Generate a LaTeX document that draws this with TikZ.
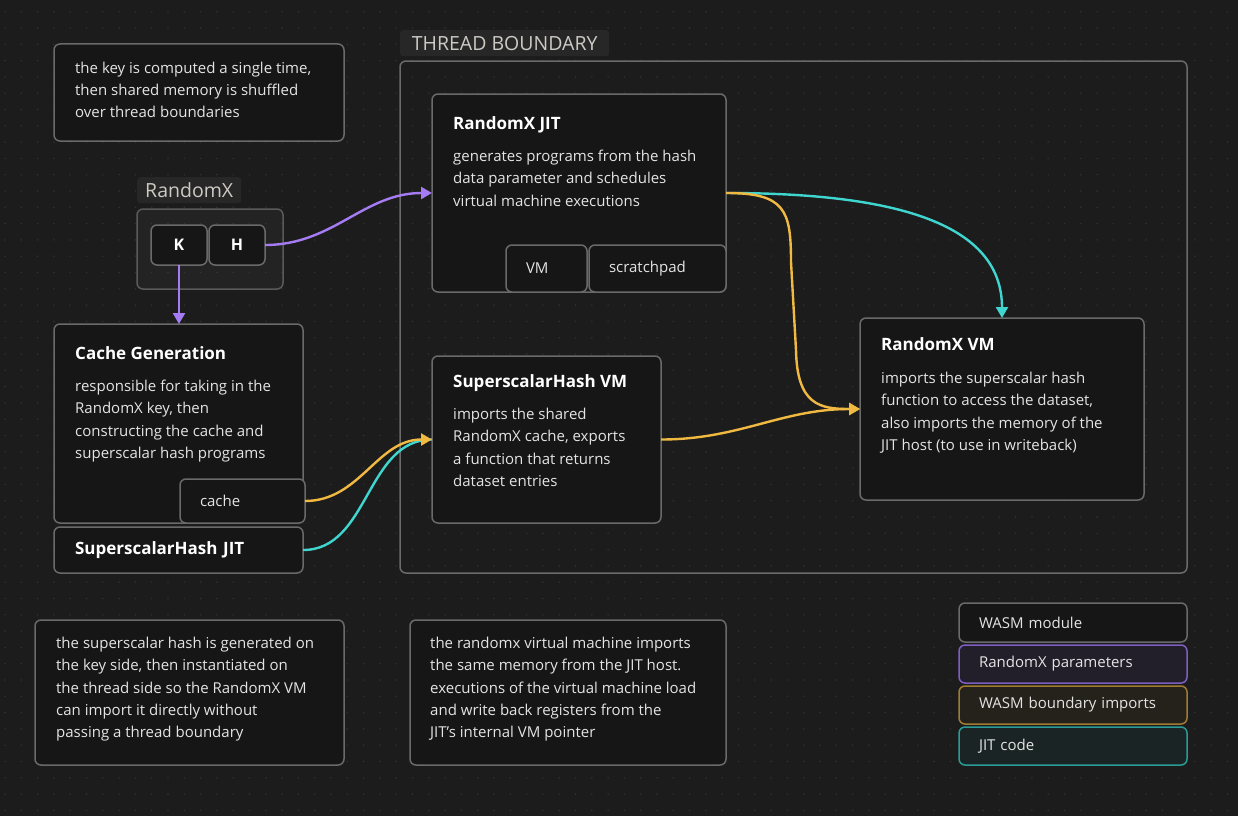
\documentclass[tikz,border=0pt]{standalone}
\usepackage{fontspec}
\setmainfont{Open Sans}
\usetikzlibrary{arrows.meta,positioning,calc}

\definecolor{canvas}{HTML}{1C1C1C}
\definecolor{dotc}{HTML}{303030}
\definecolor{cardbg}{HTML}{161616}
\definecolor{edge}{HTML}{6A6A6A}
\definecolor{bodytxt}{HTML}{E4E4E4}
\definecolor{tagbg}{HTML}{272727}
\definecolor{tagtxt}{HTML}{CDCAC4}
\definecolor{purp}{HTML}{A57CF3}
\definecolor{gold}{HTML}{F0B942}
\definecolor{teal}{HTML}{40D6D0}
\definecolor{purpbd}{HTML}{7D5EC2}
\definecolor{purpbg}{HTML}{221F2B}
\definecolor{goldbd}{HTML}{A07C33}
\definecolor{goldbg}{HTML}{25211B}
\definecolor{tealbd}{HTML}{2A9C97}
\definecolor{tealbg}{HTML}{1B2424}

\begin{document}
\begin{tikzpicture}[x=1pt, y=-1pt, >={Triangle[length=11pt, width=12pt]}, node distance=2pt]
  \tikzstyle{card}=[draw=edge, line width=1.5pt, rounded corners=6pt, fill=cardbg, anchor=north west, inner sep=0pt, outer sep=0pt]
  \tikzstyle{pill}=[card, text=bodytxt, font=\fontsize{15}{22}\selectfont, align=left, inner xsep=20pt]
  \tikzstyle{key}=[card, minimum width=56pt, minimum height=40pt, text=white, font=\fontsize{16}{20}\selectfont\bfseries]
  \tikzstyle{ttl}=[inner sep=0pt, text=white, font=\fontsize{17}{22}\selectfont\bfseries]
  \tikzstyle{txt}=[inner sep=0pt, text=bodytxt, font=\fontsize{15}{22.2}\selectfont, align=left]
  \tikzstyle{tag}=[fill=tagbg, rounded corners=3pt, text=tagtxt, font=\fontsize{19.5}{22}\selectfont, anchor=north west, inner sep=0pt]
  \tikzstyle{link}=[line width=2.4pt]

  % canvas and dot grid
  \fill[canvas] (0,0) rectangle (1238,816);
  \useasboundingbox (0,0) rectangle (1238,816);
  \foreach \i in {0,...,75}
    \foreach \j in {0,...,49}
      \fill[dotc] (5+16.3*\i, 11.7+16.3*\j) circle (0.9);

  % notes
  \node[card, minimum width=290pt, minimum height=97pt] (note1) at (54,44) {};
  \node[txt, below right=18pt and 21pt of note1.north west] {the key is computed a single time,\\then shared memory is shuffled\\over thread boundaries};
  \node[card, minimum width=309pt, minimum height=145pt] (note2) at (35,620) {};
  \node[txt, below right=17pt and 21pt of note2.north west] {the superscalar hash is generated on\\the key side, then instantiated on\\the thread side so the RandomX VM\\can import it directly without\\passing a thread boundary};
  \node[card, minimum width=316pt, minimum height=145pt] (note3) at (410,620) {};
  \node[txt, below right=17pt and 20pt of note3.north west] {the randomx virtual machine imports\\the same memory from the JIT host.\\executions of the virtual machine load\\and write back registers from the\\JIT's internal VM pointer};

  % key side
  \node[tag, minimum width=104pt, minimum height=26pt] (rxtag) at (137,177) {RandomX};
  \node[card, fill=white, fill opacity=0.03, draw opacity=1, draw=edge!85!black, minimum width=146pt, minimum height=80pt] (rxgroup) at (137,209) {};
  \node[key] (k) at (151,225) {K};
  \node[key, right=2pt of k] (h) {H};

  \node[card, minimum width=249pt, minimum height=199pt] (cgen) at (54,324) {};
  \node[ttl, below right=22pt and 21pt of cgen.north west] {Cache Generation};
  \node[txt, below right=56pt and 21pt of cgen.north west] {responsible for taking in the\\RandomX key, then\\constructing the cache and\\superscalar hash programs};
  \node[pill, text width=85pt, minimum height=44pt] (cache) at (180,479) {cache};
  \node[card, text=white, font=\fontsize{17}{22}\selectfont\bfseries, align=left, inner xsep=21pt, text width=207pt, minimum height=46pt] (ssjit) at (54,527) {SuperscalarHash JIT};

  % thread side
  \node[tag, minimum width=209pt, minimum height=26pt] (tbtag) at (400,30) {THREAD BOUNDARY};
  \draw[edge, line width=1.5pt, rounded corners=6pt] (400,61) rectangle (1187,573);

  \node[card, minimum width=294pt, minimum height=198pt] (jit) at (432,94) {};
  \node[ttl, below right=22pt and 21pt of jit.north west] {RandomX JIT};
  \node[txt, below right=56pt and 21pt of jit.north west] {generates programs from the hash\\data parameter and schedules\\virtual machine executions};
  \node[pill, text width=41pt, minimum height=47pt] (vm) at (506,245) {VM};
  \node[pill, right=2pt of vm, anchor=west, text width=97pt, minimum height=47pt] (scratch) {scratchpad};

  \node[card, minimum width=229pt, minimum height=167pt] (sshvm) at (432,356) {};
  \node[ttl, below right=18pt and 21pt of sshvm.north west] {SuperscalarHash VM};
  \node[txt, below right=52pt and 21pt of sshvm.north west] {imports the shared\\RandomX cache, exports\\a function that returns\\dataset entries};

  \node[card, minimum width=284pt, minimum height=182pt] (rxvm) at (860,318) {};
  \node[ttl, below right=19pt and 21pt of rxvm.north west] {RandomX VM};
  \node[txt, below right=54pt and 21pt of rxvm.north west] {imports the superscalar hash\\function to access the dataset,\\also imports the memory of the\\JIT host (to use in writeback)};

  % legend
  \node[pill, text width=188pt, minimum height=39pt] (lmod) at (959,603) {WASM module};
  \node[pill, draw=purpbd, fill=purpbg, below=3pt of lmod, text width=188pt, minimum height=38pt] (lpar) {RandomX parameters};
  \node[pill, draw=goldbd, fill=goldbg, below=3pt of lpar, text width=188pt, minimum height=38pt] (lbnd) {WASM boundary imports};
  \node[pill, draw=tealbd, fill=tealbg, below=3pt of lbnd, text width=188pt, minimum height=38pt] (ljit) {JIT code};

  % connectors
  \draw[link, purp, ->] (k.south) -- (k.south |- cgen.north);
  \draw[link, purp, ->] (h.east) to[out=0, in=180] (jit.west);
  \draw[link, teal] (ssjit.east) to[out=0, in=180] (sshvm.west);
  \draw[link, gold, ->] (cache.east) to[out=0, in=180] (sshvm.west);
  \draw[link, teal, ->] (jit.east) .. controls (900,193) and (1002,225) .. (rxvm.north);
  \draw[link, gold, ->] (jit.east) .. controls (785,193) and (791,210) .. (791,262) -- (796,350) .. controls (797,405) and (820,409) .. (rxvm.west);
  \draw[link, gold, ->] (sshvm.east) to[out=0, in=180] (rxvm.west);
\end{tikzpicture}
\end{document}
